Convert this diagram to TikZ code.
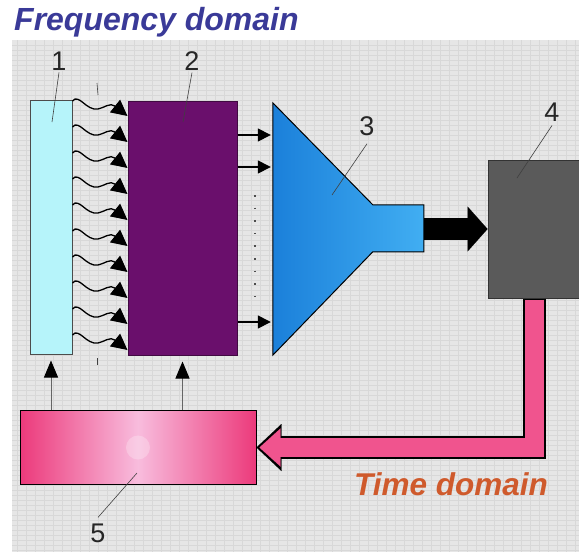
\documentclass[tikz,border=0pt]{standalone}
\usepackage{fontspec}
\setmainfont{Liberation Sans}
\usetikzlibrary{arrows.meta}

\definecolor{gridbg}{HTML}{E6E6E6}
\definecolor{gridln}{HTML}{D8D8D8}
\definecolor{freqblue}{HTML}{3A3A98}
\definecolor{timeorange}{HTML}{CF5A2C}
\definecolor{cyanbox}{HTML}{B6F4FA}
\definecolor{purplebox}{HTML}{6A0F6C}
\definecolor{funnelA}{HTML}{1B80DA}
\definecolor{funnelB}{HTML}{41AEF2}
\definecolor{darkbox}{HTML}{5A5A5A}
\definecolor{pinkdeep}{HTML}{EC3A7B}
\definecolor{pinklight}{HTML}{F8BCDD}
\definecolor{pipepink}{HTML}{F0548E}

\tikzset{
  block/.style={draw, line width=1pt, inner sep=0pt},
  num/.style={font=\fontsize{27}{27}\selectfont, text=black!85, inner sep=0pt},
  lead/.style={draw=black!75, line width=0.6pt},
  arr/.style={line width=1.5pt, -{Triangle[length=13pt,width=13pt]}},
  uparr/.style={line width=1pt, draw=black!60, -{Triangle[length=17pt,width=14pt,color=black]}, shorten >=6pt},
  wave/.style={line width=1.3pt, -{Triangle[length=16pt,width=16pt]}},
  caption/.style={font=\fontsize{32}{32}\selectfont\bfseries\itshape, inner sep=0pt},
}

\begin{document}
\begin{tikzpicture}[x=1pt, y=-1pt]
\useasboundingbox (0,0) rectangle (579,552);

% background grid
\fill[gridbg] (12,40) rectangle (579,552);
\foreach \x in {17,26,...,575} \draw[gridln, line width=0.3pt] (\x,40) -- (\x,552);
\foreach \y in {45,50,...,550} \draw[gridln, line width=0.3pt] (12,\y) -- (579,\y);

% blocks
\node[block, fill=cyanbox, draw=black!70, minimum width=42pt, minimum height=254pt] (first) at (51,227) {};
\node[block, fill=purplebox, draw=purplebox!60!black, minimum width=109pt, minimum height=254pt] (second) at (182.5,228) {};
\node[inner sep=0pt, minimum width=151pt, minimum height=252pt] (third) at (348.5,229) {};
\node[block, fill=darkbox, draw=black!80, minimum width=92pt, minimum height=138pt] (fourth) at (534,229) {};
\node[block, left color=pinkdeep, right color=pinkdeep, middle color=pinklight, minimum width=236pt, minimum height=74pt] (fifth) at (138,447.5) {};
\fill[white, opacity=0.25] (fifth.center) circle (12);

% funnel
\draw[line width=1pt, left color=funnelA, right color=funnelB] (third.north west) -- ++(100,102) -- ++(51,0) -- ++(0,47) -- ++(-51,0) -- (third.south west) -- cycle;

% wavy arrows 1 -> 2
\foreach \y [evaluate=\y as \ya using \y-8, evaluate=\y as \yb using \y+7] in {109,135,...,343}
  \draw[wave] (first.east |- 0,\ya) .. controls (79,\y-16) and (86,\y+2) .. (98,\y) .. controls (104,\y-1) and (110,\y-7) .. (second.west |- 0,\yb);

% outputs 2 -> 3
\foreach \y in {135,167,322}
  \draw[arr, shorten >=2pt] (second.east |- 0,\y) -- (third.west |- 0,\y);
\draw[line width=1.6pt, black!70, dash pattern=on 1.6pt off 11pt] (255,195) -- (255,305);

% 3 -> 4
\draw[line width=22pt, -{Triangle[length=20pt,width=45pt,line width=0.01pt]}] (third.east) -- (fourth.west);

% 4 -> 5 feedback pipe
\draw[line width=23pt, -{Triangle[length=25pt,width=47pt,line width=0.01pt]}] (fourth.south) |- (fifth.east);
\draw[pipepink, line width=19pt, -{Triangle[length=21pt,width=38pt,line width=0.01pt]}, shorten >=3pt, shorten <=1pt] (fourth.south) |- (fifth.east);

% 5 -> 1, 5 -> 2
\draw[uparr] (first.south |- fifth.north) -- (first.south);
\draw[uparr] (second.south |- fifth.north) -- (second.south);

% numbers and leaders
\node[num] (n1) at (59,61) {1};
\node[num] (n2) at (192,61) {2};
\node[num] (n3) at (367,126) {3};
\node[num] (n4) at (552,112) {4};
\node[num] (n5) at (98,533) {5};
\coordinate (p1) at (52,122);
\coordinate (p2) at (183,122);
\coordinate (p3) at (332,195);
\coordinate (p4) at (517,178);
\coordinate (p5) at (137,473);
\draw[lead] ([yshift=-2pt]n1.south) -- (p1);
\draw[lead] ([yshift=-2pt]n2.south) -- (p2);
\draw[lead] ([yshift=-8pt]n3.south) -- (p3);
\draw[lead] ([yshift=-4pt]n4.south) -- (p4);
\draw[lead] ([yshift=6pt]n5.north) -- (p5);
\draw[lead] (97,83) -- (98,95);
\draw[lead] (97,358) -- (97,365);

% domain captions
\node[caption, text=freqblue, anchor=west] (freq) at (14,22) {Frequency domain};
\node[caption, text=timeorange, anchor=east, font=\fontsize{31.5}{31.5}\selectfont\bfseries\itshape] (time) at (548,484) {Time domain};
\end{tikzpicture}
\end{document}
